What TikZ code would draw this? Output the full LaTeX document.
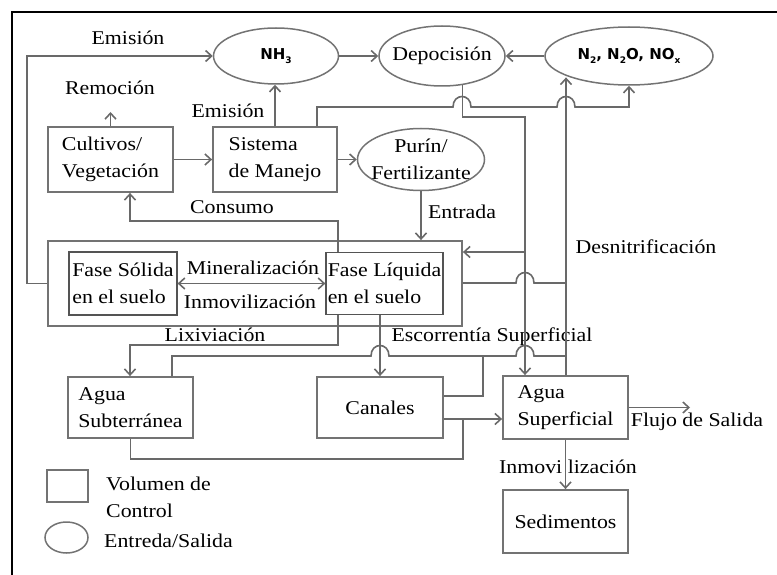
\documentclass[tikz,border=0pt]{standalone}
\usepackage{fontspec}
\setmainfont{Liberation Serif}[FakeStretch=1.12]
\newfontfamily\chemfont{DejaVu Sans}
\usetikzlibrary{arrows.meta,shapes.geometric}

\definecolor{linegray}{RGB}{105,105,105}
\definecolor{boxgray}{RGB}{115,115,115}

% lowered small index for the chemical formulas
\newcommand\chemsub[1]{\raisebox{-0.3em}{\fontsize{9}{9}\selectfont #1}}

\tikzset{
  txt/.style={font=\fontsize{19.5}{27}\selectfont, inner sep=0pt, text=black},
  chem/.style={font=\chemfont\bfseries\fontsize{15}{18}\selectfont, inner sep=0pt, text=black},
  ctrlbox/.style={draw=boxgray, line width=1.8pt, rectangle, inner sep=0pt, align=left, txt},
  phasebox/.style={ctrlbox, draw=linegray!80!black, line width=1.2pt},
  iobox/.style={draw=boxgray, line width=1.5pt, ellipse, inner sep=0pt},
  link/.style={draw=linegray, line width=1.6pt},
  flow/.style={link, -{Straight Barb[length=6pt,width=11pt]}},
  both/.style={link, {Straight Barb[length=6pt,width=11pt]}-{Straight Barb[length=6pt,width=11pt]}},
  % small semicircular jump where a line crosses another
  hop/.style args={#1/#2}{insert path={-- ({#1-9},#2) .. controls ({#1-9},{#2-14}) and ({#1+9},{#2-14}) .. ({#1+9},#2)}},
}

\begin{document}
\begin{tikzpicture}[x=1pt,y=-1pt]
\useasboundingbox (0,0) rectangle (777,575);
\draw[line width=2.2pt] (12,575) -- (12,12) -- (777,12);

% ---- inputs / outputs (ellipses)
\node[iobox, minimum width=125pt, minimum height=56pt] (nh3) at (276,56) {};
\node[chem] (nh3txt) at (nh3) {NH\chemsub{3}};
\node[iobox, minimum width=126pt, minimum height=60pt] (dep) at (442,56) {};
\node[txt] (deptxt) at (dep) {Depocisión};
\node[iobox, minimum width=168pt, minimum height=58pt] (nox) at (629,56) {};
\node[chem] (noxtxt) at (nox) {N\chemsub{2}, N\chemsub{2}O, NO\chemsub{x}};
\node[iobox, minimum width=127pt, minimum height=62pt] (purin) at (421,159.5) {};
\node[txt, align=center] (purintxt) at (purin) {Purín/\\Fertilizante};

% ---- control volumes (boxes)
\node[ctrlbox, minimum width=125pt, minimum height=65pt] (cult) at (110.5,159.5) {Cultivos/\\Vegetación};
\node[ctrlbox, minimum width=124pt, minimum height=65pt] (sist) at (275,159.5) {Sistema\\de Manejo};
\node[ctrlbox, minimum width=414pt, minimum height=85pt] (soil) at (255,283.5) {};
\node[phasebox, minimum width=108pt, minimum height=63pt] (solid) at (123,283.5) {Fase Sólida\\en el suelo};
\node[phasebox, minimum width=117pt, minimum height=62pt] (liquid) at (384.5,283.5) {Fase Líquida\\en el suelo};
\node[ctrlbox, minimum width=125pt, minimum height=61pt] (subt) at (130.5,407.5) {Agua\\Subterránea};
\node[ctrlbox, minimum width=126pt, minimum height=61pt] (canal) at (380,407.5) {Canales};
\node[ctrlbox, minimum width=125pt, minimum height=63pt] (sup) at (565.5,407.5) {Agua\\Superficial};
\node[ctrlbox, minimum width=125pt, minimum height=63pt] (sed) at (565.5,521.5) {Sedimentos};

% ---- flow labels
\node[txt] (lemis1) at (128,38) {Emisión};
\node[txt] (lrem) at (110,88) {Remoción};
\node[txt] (lemis2) at (228,111) {Emisión};
\node[txt] (lcons) at (232,207) {Consumo};
\node[txt] (lmin) at (253,268) {Mineralización};
\node[txt] (linm) at (250,302) {Inmovilización};
\node[txt] (llix) at (215,335) {Lixiviación};
\node[txt] (lent) at (462,212) {Entrada};
\node[txt] (ldes) at (646,247) {Desnitrificación};
\node[txt] (lesc) at (492,337) {Escorrentía Superficial};
\node[txt] (lflu) at (697,422) {Flujo de Salida};
\node[txt, anchor=west] (linm2) at (499,467) {Inmovi lización};

% ---- connectors
\draw[flow] (soil.west) -- (27,283.5) -- (27,56) -- (nh3.west);
\draw[flow] (nh3.east) -- (dep.west);
\draw[flow] (nox.west) -- (dep.east);
\coordinate (remtip) at (110.5,112);
\draw[flow] (cult.north) -- (remtip);
\draw[flow] (cult.east) -- (sist.west);
\draw[flow] (sist.north) -- (sist.north |- nh3.south);
\draw[flow] (317,0 |- sist.north) -- (317,107) [hop=462/107] [hop=566/107] -- (629,107) -- (nox.south);
\draw[flow] (sist.east) -- (purin.west);
\draw[flow] (purin.south) -- (purin.south |- soil.north);

% deposition to surface water and soil
\draw[flow] (dep.-55) |- (525,117) -- (525,0 |- sup.north);
\draw[flow] (525,252) -- (soil.east |- 0,252);

% denitrification
\draw[link] (soil.east |- 0,283) [hop=525/283] -- (566,283);
\draw[flow] (566,0 |- sup.north) -- (566,0 |- nox.200);

% uptake, mineralization, leaching, runoff
\draw[flow] (338,0 |- liquid.north) -- (338,221) -- (130,221) -- (130,0 |- cult.south);
\draw[both] (solid.east) -- (liquid.west);
\draw[flow] (338,0 |- liquid.south) -- (338,345) -- (130,345) -- (130,0 |- subt.north);
\draw[flow] (380,0 |- liquid.south) -- (380,0 |- canal.north);
\draw[link] (172,0 |- subt.north) -- (172,356) [hop=380/356] [hop=525/356] -- (566,356);
\draw[link] (483,356) -- (483,396) -- (canal.east |- 0,396);

% water bodies
\draw[flow] (canal.east |- 0,419) -- (sup.west |- 0,419);
\draw[link] (subt.south) -- (subt.south |- 0,459) -- (463,459) -- (463,419);
\coordinate (outtip) at (690,407.5);
\draw[flow] (sup.east) -- (outtip);
\draw[flow] (sup.south) -- (sed.north);

% ---- legend
\node[ctrlbox, minimum width=41pt, minimum height=32pt] (legbox) at (67.5,486) {};
\node[iobox, minimum width=43pt, minimum height=31pt] (legell) at (66.5,537.5) {};
\node[txt, align=left, anchor=west] (legboxtxt) at (106,497) {Volumen de\\Control};
\node[txt, anchor=west] (legelltxt) at (104,541) {Entreda/Salida};
\end{tikzpicture}
\end{document}
